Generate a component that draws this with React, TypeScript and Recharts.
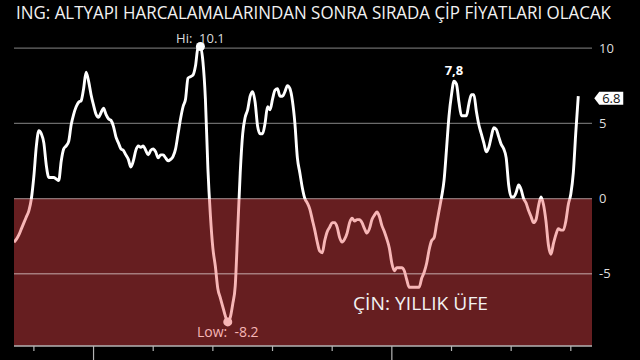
import { LineChart, Line, XAxis, YAxis, ReferenceArea, ReferenceLine } from "recharts"

// China PPI, year-on-year %, monthly from May 2002 to Apr 2021
const startYear = 2002
const startMonth = 5

const ppiYoY = [
  // 2002 (May - Dec)
  -2.9, -2.7, -2.4, -2.0, -1.6, -1.2, -0.8, 0.0,
  // 2003
  1.5, 3.5, 4.5, 4.3, 3.7, 2.2, 1.4, 1.4, 1.4, 1.3, 1.2, 2.5,
  // 2004
  3.3, 3.5, 3.8, 4.9, 5.6, 6.1, 6.4, 6.5, 7.3, 8.4, 7.8, 6.9,
  // 2005
  6.2, 5.6, 5.4, 5.7, 6.0, 5.6, 5.3, 5.2, 4.8, 4.1, 3.7, 3.3,
  // 2006
  3.2, 2.9, 2.6, 2.1, 2.5, 3.2, 3.5, 3.4, 3.5, 3.2, 2.9, 3.2,
  // 2007
  3.3, 3.1, 2.7, 2.9, 2.9, 2.7, 2.5, 2.6, 2.8, 3.3, 4.3, 5.3,
  // 2008
  6.1, 6.6, 8.0, 8.1, 8.2, 8.8, 10.0, 10.1, 9.1, 6.6, 2.0, -1.1,
  // 2009
  -3.3, -4.5, -6.0, -6.6, -7.2, -7.8, -8.2, -7.9, -7.0, -5.8, -2.1, 1.7,
  // 2010
  4.3, 5.4, 5.9, 6.8, 7.1, 6.4, 4.8, 4.3, 4.3, 5.0, 6.1, 5.9,
  // 2011
  6.6, 7.2, 7.3, 6.8, 6.8, 7.1, 7.5, 7.3, 6.5, 5.0, 2.7, 1.7,
  // 2012
  0.7, 0.0, -0.3, -0.7, -1.4, -2.1, -2.9, -3.5, -3.6, -2.8, -2.2, -1.9,
  // 2013
  -1.6, -1.6, -1.9, -2.6, -2.9, -2.7, -2.3, -1.6, -1.3, -1.5, -1.4, -1.4,
  // 2014
  -1.6, -2.0, -2.3, -2.0, -1.4, -1.1, -0.9, -1.2, -1.8, -2.2, -2.7, -3.3,
  // 2015
  -4.3, -4.8, -4.6, -4.6, -4.6, -4.8, -5.4, -5.9, -5.9, -5.9, -5.9, -5.9,
  // 2016
  -5.3, -4.9, -4.3, -3.4, -2.8, -2.6, -1.7, -0.8, 0.1, 1.2, 3.3, 5.5,
  // 2017
  6.9, 7.8, 7.6, 6.4, 5.5, 5.5, 5.5, 6.3, 6.9, 6.9, 5.8, 4.9,
  // 2018
  4.3, 3.7, 3.1, 3.4, 4.1, 4.7, 4.6, 4.1, 3.6, 3.3, 2.7, 0.9,
  // 2019
  0.1, 0.1, 0.4, 0.9, 0.6, 0.0, -0.3, -0.8, -1.2, -1.6, -1.4, -0.5,
  // 2020
  0.1, -0.4, -1.5, -3.1, -3.7, -3.0, -2.4, -2.0, -2.1, -2.1, -1.5, -0.4,
  // 2021 (Jan - Apr)
  0.3, 1.7, 4.4, 6.8,
]

const yearTicks = [
  2003, 2004, 2005, 2006, 2007, 2008, 2009, 2010, 2011,
  2012, 2013, 2014, 2015, 2016, 2017, 2018, 2019, 2020, 2021,
]
const valueTicks = [-5, 0, 5, 10]

const title = "ING: ALTYAPI HARCALAMALARINDAN SONRA SIRADA ÇİP FİYATLARI OLACAK"
const seriesName = "ÇİN: YILLIK ÜFE"
const peakLabelMonth = { year: 2017, month: 2 }

const data = ppiYoY.map((v, i) => ({
  t: startYear + (startMonth - 1 + i) / 12,
  ppi: v,
}))

const hiIdx = ppiYoY.indexOf(Math.max(...ppiYoY))
const loIdx = ppiYoY.indexOf(Math.min(...ppiYoY))
const peakIdx = (peakLabelMonth.year - startYear) * 12 + peakLabelMonth.month - startMonth
const lastIdx = ppiYoY.length - 1
const hi = ppiYoY[hiIdx]
const lo = ppiYoY[loIdx]
const zeroOffset = hi / (hi - lo)

const PINK = "#f7b6b6"
const FONT = "'Open Sans', 'DejaVu Sans', sans-serif"
const NB = "\u00a0"

function YearTick(props: any) {
  const { x, y, payload } = props
  const major = payload.value % 5 === 0
  return <line x1={x} x2={x} y1={y} y2={y + (major ? 16 : 5)} stroke="#b5b5b5" strokeWidth={1.2} />
}

function renderDot(props: any) {
  const { cx, cy, index } = props
  if (index === hiIdx) return <circle key="hi" cx={cx} cy={cy} r={4.5} fill="#fff" />
  if (index === loIdx) return <circle key="lo" cx={cx} cy={cy} r={4.5} fill={PINK} />
  return <g key={index} />
}

function renderLabel(props: any) {
  const { x, y, index, value } = props
  if (index === hiIdx)
    return (
      <text key="hl" x={x} y={y - 3.5} textAnchor="middle" fill="#dcdcdc" fontSize={13} fontFamily={FONT}>
        {`Hi:${NB}${NB}${value}`}
      </text>
    )
  if (index === loIdx)
    return (
      <text key="ll" x={x} y={y + 15} textAnchor="middle" fill={PINK} fontSize={14} fontFamily={FONT}>
        {`Low:${NB}${NB}${value}`}
      </text>
    )
  if (index === peakIdx)
    return (
      <text key="pl" x={x} y={y - 6} textAnchor="middle" fill="#fff" fontSize={13} fontWeight="bold" fontFamily={FONT}>
        {String(value).replace(".", ",")}
      </text>
    )
  if (index === lastIdx) {
    const cy = y + 2
    const l = x + 16
    return (
      <g key="tag">
        <path
          d={`M${l},${cy} L${l + 5},${cy - 6.5} L${l + 29},${cy - 6.5} L${l + 29},${cy + 6.5} L${l + 5},${cy + 6.5} Z`}
          fill="#fff"
        />
        <text x={l + 17} y={cy + 4.5} textAnchor="middle" fill="#111" fontSize={13} fontFamily={FONT}>
          {value.toFixed(1)}
        </text>
      </g>
    )
  }
  return <g key={index} />
}

export default function App() {
  return (
    <div style={{ position: "absolute", left: 0, top: 0, width: 640, height: 360, background: "#000" }}>
      <LineChart width={640} height={360} data={data} margin={{ top: 33, right: 8, bottom: 0, left: 14 }}>
        <defs>
          <linearGradient id="ppiStroke" x1="0" y1="0" x2="0" y2="1">
            <stop offset={zeroOffset} stopColor="#ffffff" />
            <stop offset={zeroOffset} stopColor={PINK} />
          </linearGradient>
        </defs>
        <ReferenceArea y1={-9.8} y2={0} fill="#661e20" fillOpacity={1} stroke="none" />
        {valueTicks.map((v) => (
          <ReferenceLine key={v} y={v} stroke="rgba(255,255,255,0.42)" strokeWidth={1.3} />
        ))}
        <XAxis
          dataKey="t"
          type="number"
          domain={[startYear + (startMonth - 1) / 12, 2021.71]}
          ticks={yearTicks}
          height={14}
          tickSize={0}
          tickMargin={0}
          tickLine={false}
          tick={<YearTick />}
          axisLine={{ stroke: "#b5b5b5", strokeWidth: 1.5 }}
          allowDataOverflow
        />
        <YAxis
          orientation="right"
          width={40}
          domain={[-9.8, 11]}
          ticks={valueTicks}
          axisLine={false}
          tickLine={false}
          tickSize={0}
          tickMargin={7}
          tick={{ fill: "#dedede", fontSize: 13, fontFamily: FONT, textAnchor: "start" }}
        />
        <Line
          type="monotone"
          dataKey="ppi"
          stroke="url(#ppiStroke)"
          strokeWidth={2.9}
          dot={renderDot}
          activeDot={false}
          label={renderLabel}
          isAnimationActive={false}
        />
      </LineChart>
      <svg width={640} height={360} style={{ position: "absolute", left: 0, top: 0, pointerEvents: "none" }}>
        <text x={16} y={19} fill="#f2f2f2" fontSize={17.5} fontFamily={FONT} textLength={595} lengthAdjust="spacingAndGlyphs">
          {title}
        </text>
        <text x={353} y={310} fill="#f2f2f2" fontSize={17.5} fontFamily={FONT} textLength={135} lengthAdjust="spacingAndGlyphs">
          {seriesName}
        </text>
      </svg>
    </div>
  )
}
